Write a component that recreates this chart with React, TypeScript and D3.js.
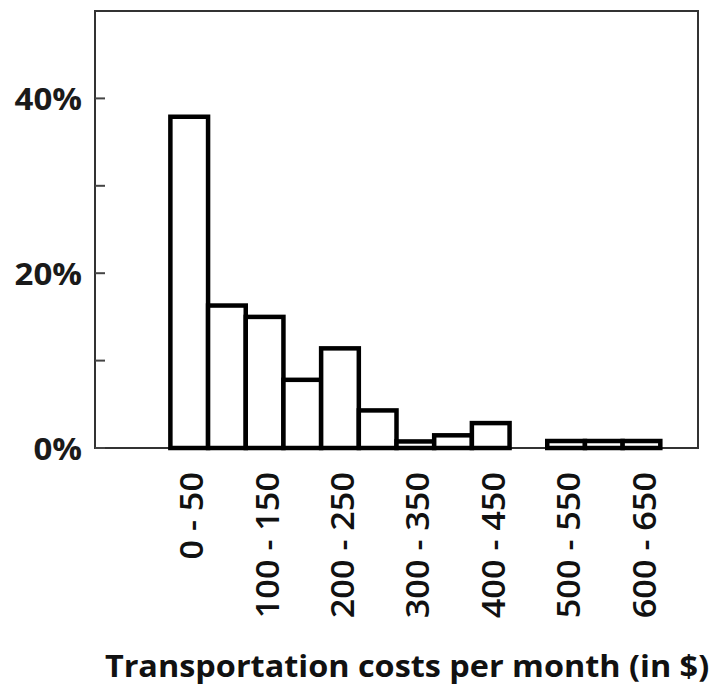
import React from "react";
import * as d3 from "d3";

const binStarts = [0, 50, 100, 150, 200, 250, 300, 350, 400, 450, 500, 550, 600];
const binWidth = 50;
const shares = [37.9, 16.3, 15.0, 7.8, 11.4, 4.3, 0.75, 1.45, 2.85, 0, 0.8, 0.8, 0.8];
const labeledBins = [0, 100, 200, 300, 400, 500, 600];
const yTicks = [0, 10, 20, 30, 40];
const yLabeled = [0, 20, 40];
const xTitle = "Transportation costs per month (in $)";

const W = 712;
const H = 687;
const left = 95;
const right = 698;
const top = 11;
const bottom = 448;

export default function App() {
  const x = d3.scaleLinear().domain([-100, 700]).range([left, right]);
  const y = d3.scaleLinear().domain([0, 50]).range([bottom, top]);
  const font = "'Open Sans', 'Noto Sans', sans-serif";
  return (
    <svg
      width={W}
      height={H}
      style={{ position: "absolute", left: 0, top: 0, background: "#fff" }}
    >
      <rect
        x={left}
        y={top}
        width={right - left}
        height={bottom - top}
        fill="#fff"
        stroke="#333"
        strokeWidth={2}
      />
      {yTicks.map((t) => (
        <line
          key={t}
          x1={left}
          x2={left + 10}
          y1={y(t)}
          y2={y(t)}
          stroke="#444"
          strokeWidth={2}
        />
      ))}
      {yLabeled.map((t) => (
        <text
          key={t}
          transform={`translate(82,${y(t)}) scale(1.1,1)`}
          textAnchor="end"
          dominantBaseline="central"
          fontFamily={font}
          fontWeight={700}
          fontSize={30}
          fill="#1a1a1a"
        >
          {t + "%"}
        </text>
      ))}
      {binStarts.map((b, i) => (
        <rect
          key={b}
          x={x(b)}
          y={y(shares[i])}
          width={x(b + binWidth) - x(b)}
          height={y(0) - y(shares[i])}
          fill="#fff"
          stroke="#000"
          strokeWidth={4.5}
        />
      ))}
      {labeledBins.map((b) => {
        const cx = x(b + binWidth / 2) + 2;
        return (
          <text
            key={b}
            transform={`translate(${cx},472) rotate(-90) scale(1.07,1)`}
            textAnchor="end"
            dominantBaseline="central"
            fontFamily={font}
            fontWeight={600}
            fontSize={32}
            fill="#111"
          >
            {`${b} - ${b + binWidth}`}
          </text>
        );
      })}
      <text
        transform="translate(407,677) scale(1.08,1)"
        textAnchor="middle"
        fontFamily={font}
        fontWeight={700}
        fontSize={30}
        fill="#111"
      >
        {xTitle}
      </text>
    </svg>
  );
}
